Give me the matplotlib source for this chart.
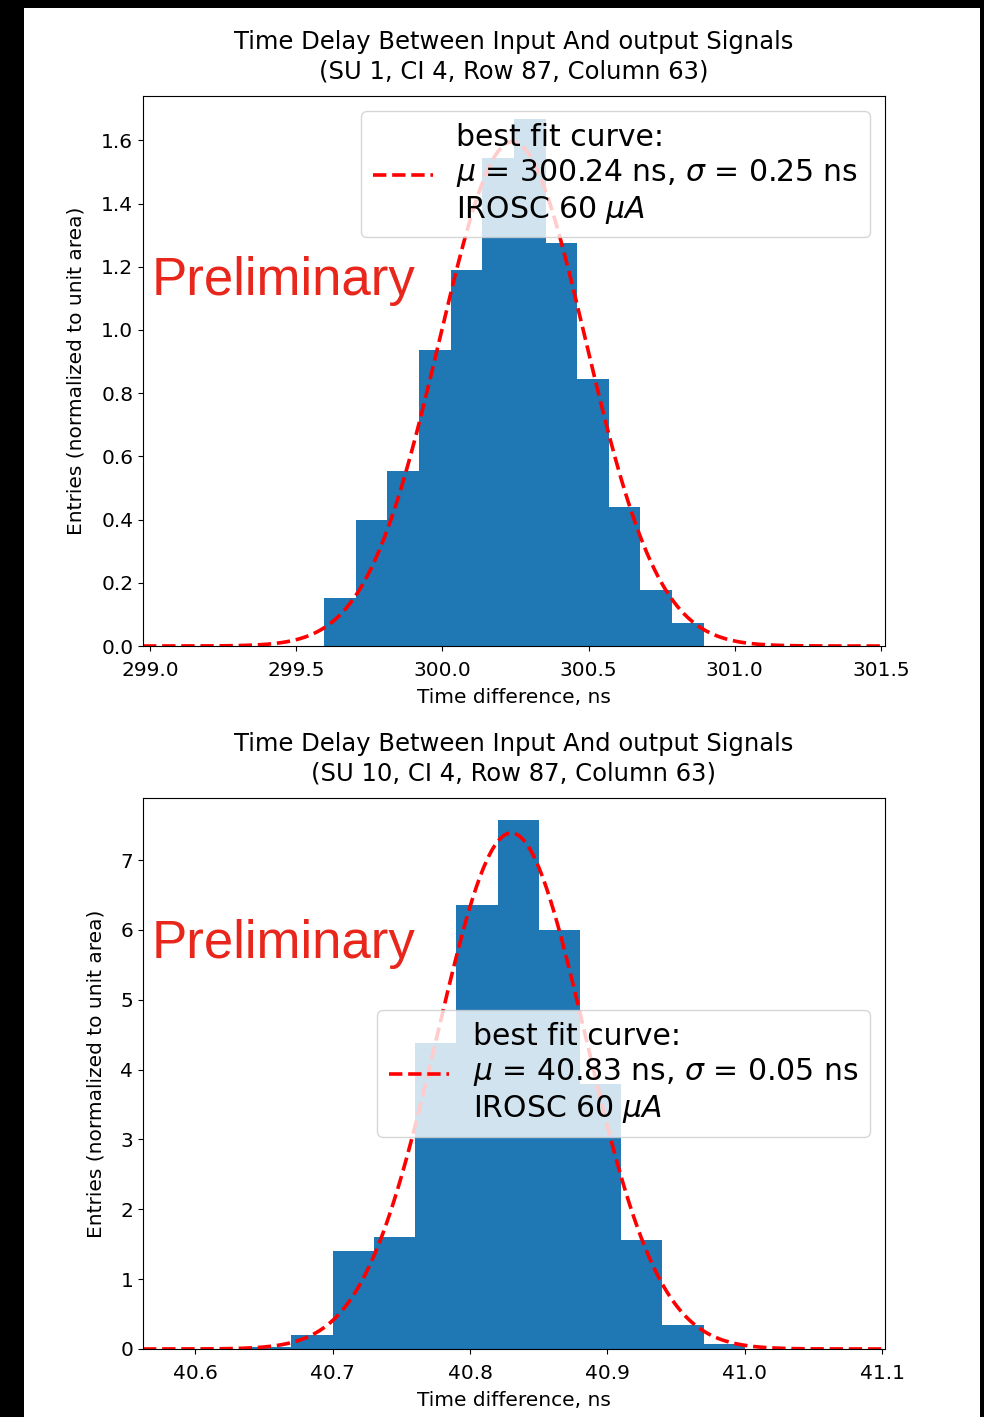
import numpy as np
import matplotlib.pyplot as plt
from matplotlib.patches import Rectangle

# histogram 1 (SU 1): bin edges and normalised heights
edges_1 = np.linspace(299.596, 300.894, 13)
heights_1 = [0.152, 0.398, 0.554, 0.937, 1.189, 1.544, 1.667, 1.275, 0.844, 0.440, 0.177, 0.073]
mu_1, sigma_1 = 300.24, 0.25

# histogram 2 (SU 10)
edges_2 = np.linspace(40.64, 41.00, 13)
heights_2 = [0.03, 0.20, 1.40, 1.60, 4.38, 6.36, 7.57, 6.00, 3.80, 1.56, 0.35, 0.07]
mu_2, sigma_2 = 40.83, 0.054

titles = ["Time Delay Between Input And output Signals\n(SU 1, CI 4, Row 87, Column 63)",
          "Time Delay Between Input And output Signals\n(SU 10, CI 4, Row 87, Column 63)"]

fig = plt.figure(figsize=(9.84, 14.17), dpi=100, facecolor='black')
# white page on black screen background
fig.add_artist(Rectangle((24 / 984, 0), (980 - 24) / 984, (1417 - 8) / 1417,
                         transform=fig.transFigure, facecolor='white', edgecolor='none', zorder=-10))

ax1 = fig.add_axes([0.1453, 0.5441, 0.7541, 0.3881])
ax2 = fig.add_axes([0.1453, 0.0480, 0.7541, 0.3889])


def gauss(x, mu, sigma):
    return np.exp(-0.5 * ((x - mu) / sigma) ** 2) / (sigma * np.sqrt(2 * np.pi))


setups = [
    (ax1, edges_1, heights_1, mu_1, sigma_1, (298.976, 301.514), (0, 1.74), 'upper right', 0.638, titles[0]),
    (ax2, edges_2, heights_2, mu_2, sigma_2, (40.562, 41.102), (0, 7.89), 'center right', 0.71, titles[1]),
]

for ax, edges, heights, mu, sigma, xlim, ylim, loc, prel_y, title in setups:
    ax.stairs(heights, edges, fill=True, color='#1f77b4')
    xs = np.linspace(xlim[0], xlim[1], 400)
    ax.plot(xs, gauss(xs, mu, sigma), 'r--', lw=2.6,
            label="best fit curve:\n$\\mu$ = %.2f ns, $\\sigma$ = %.2f ns\nIROSC 60 $\\mu A$" % (mu, sigma))
    ax.set_xlim(*xlim)
    ax.set_ylim(*ylim)
    ax.set_title(title, fontsize=17.5, linespacing=1.3, pad=12.5)
    ax.set_xlabel("Time difference, ns", fontsize=14.5, labelpad=6)
    ax.set_ylabel("Entries (normalized to unit area)", fontsize=14.5, labelpad=11)
    ax.tick_params(labelsize=14.5)
    ax.tick_params(axis='x', pad=7)
    ax.legend(loc=loc, fontsize=21.5)
    ax.text(0.012, prel_y, "Preliminary", transform=ax.transAxes, color='#e8261c',
            fontsize=38, family='Liberation Sans', va='baseline')

ax1.set_xticks([299.0, 299.5, 300.0, 300.5, 301.0, 301.5])
ax2.set_xticks([40.6, 40.7, 40.8, 40.9, 41.0, 41.1])

fig.savefig("out.png", dpi=100, facecolor='black')
